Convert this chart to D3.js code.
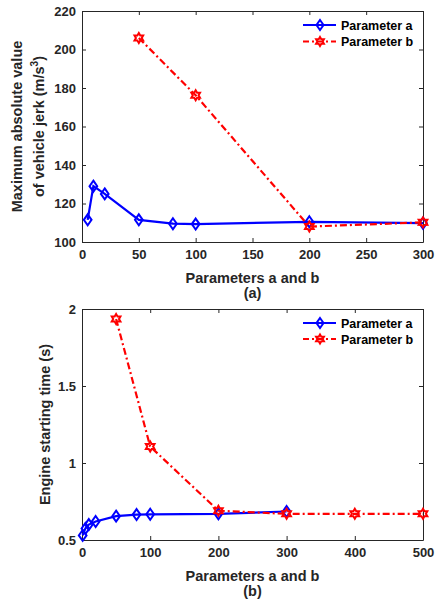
<!DOCTYPE html>
<html>
<head>
<meta charset="utf-8">
<script src="https://cdn.jsdelivr.net/npm/d3@7"></script>
<style>
  body { margin: 0; background: #fff; }
  svg { font-family: "Liberation Sans", Arial, sans-serif; font-weight: bold; }
</style>
</head>
<body>
<div id="chart"></div>
<script>
// panel (a): jerk
const jerkAX = [5, 10, 20, 50, 80, 100, 200, 300];
const jerkAY = [111.5, 129, 125, 111.5, 109.5, 109.3, 110.5, 109.8];
const jerkBX = [50, 100, 200, 300];
const jerkBY = [206, 176.2, 108, 110.2];
const jerkXTicks = [0, 50, 100, 150, 200, 250, 300];
const jerkYTicks = [100, 120, 140, 160, 180, 200, 220];

// panel (b): engine starting time
const startAX = [1, 5, 10, 20, 50, 80, 100, 200, 300];
const startAY = [0.53, 0.575, 0.6, 0.62, 0.655, 0.665, 0.667, 0.67, 0.685];
const startBX = [50, 100, 200, 300, 400, 500];
const startBY = [1.935, 1.107, 0.69, 0.67, 0.67, 0.67];
const startXTicks = [0, 100, 200, 300, 400, 500];
const startYTicks = [0.5, 1, 1.5, 2];

const seriesNames = ['Parameter a', 'Parameter b'];

const W = 439, H = 603;
const ink = '#262626';
const svg = d3.select('#chart').append('svg').attr('width', W).attr('height', H);

// six pointed star outline
function hexagram(r) {
    const inner = r * 0.58;
    const star = d3.range(12).map(i => {
        const a = i * Math.PI / 6 - Math.PI / 2;
        const rr = i % 2 === 0 ? r : inner;
        return [rr * Math.cos(a), rr * Math.sin(a)];
    });
    return 'M' + star.map(p => p.join(',')).join('L') + 'Z';
}
const diamond = (r) => `M0,${-r}L${r * 0.7},0L0,${r}L${-r * 0.7},0Z`;
const fmt = d3.format('~g');

function panel(cfg) {
    const g = svg.append('g');
    const x = d3.scaleLinear().domain(cfg.xDomain).range([cfg.left, cfg.right]);
    const y = d3.scaleLinear().domain(cfg.yDomain).range([cfg.bottom, cfg.top]);

    // axes, ticks inward, on all four sides
    g.append('g').attr('transform', `translate(0,${cfg.bottom})`)
        .call(d3.axisBottom(x).tickValues(cfg.xTicks).tickFormat(fmt).tickSizeInner(-4).tickSizeOuter(0).tickPadding(8));
    g.append('g').attr('transform', `translate(0,${cfg.top})`)
        .call(d3.axisTop(x).tickValues(cfg.xTicks).tickSizeInner(-4).tickSizeOuter(0).tickFormat(''));
    g.append('g').attr('transform', `translate(${cfg.left},0)`)
        .call(d3.axisLeft(y).tickValues(cfg.yTicks).tickFormat(fmt).tickSizeInner(-4).tickSizeOuter(0).tickPadding(6));
    g.append('g').attr('transform', `translate(${cfg.right},0)`)
        .call(d3.axisRight(y).tickValues(cfg.yTicks).tickSizeInner(-4).tickSizeOuter(0).tickFormat(''));
    g.selectAll('.domain, .tick line').attr('stroke', ink).attr('stroke-width', 1);
    g.selectAll('.tick text').attr('fill', ink).style('font-size', '13px').style('font-weight', 'bold')
        .style('font-family', '"Liberation Sans", Arial, sans-serif');

    const line = d3.line().x(d => x(d[0])).y(d => y(d[1]));
    const aPts = cfg.aX.map((v, i) => [v, cfg.aY[i]]);
    const bPts = cfg.bX.map((v, i) => [v, cfg.bY[i]]);

    g.append('path').datum(aPts).attr('d', line)
        .attr('fill', 'none').attr('stroke', '#0000ff').attr('stroke-width', 2.2);
    g.selectAll('.ma').data(aPts).enter().append('path')
        .attr('transform', d => `translate(${x(d[0])},${y(d[1])})`)
        .attr('d', diamond(5.5)).attr('fill', 'none').attr('stroke', '#0000ff').attr('stroke-width', 2);

    g.append('path').datum(bPts).attr('d', line)
        .attr('fill', 'none').attr('stroke', '#ff0000').attr('stroke-width', 2.2)
        .attr('stroke-dasharray', '7,3,2,3');
    g.selectAll('.mb').data(bPts).enter().append('path')
        .attr('transform', d => `translate(${x(d[0])},${y(d[1])})`)
        .attr('d', hexagram(5)).attr('fill', 'none').attr('stroke', '#ff0000').attr('stroke-width', 2);

    // legend
    const lg = g.append('g').attr('transform', `translate(303,${cfg.legendY})`);
    const rows = [
        { name: seriesNames[0], color: '#0000ff', dash: null, mark: diamond(5) },
        { name: seriesNames[1], color: '#ff0000', dash: '6,3,2,3', mark: hexagram(4.5) }
    ];
    rows.forEach((r, i) => {
        const ry = i * cfg.legendGap;
        lg.append('line').attr('x1', 0).attr('x2', 33).attr('y1', ry).attr('y2', ry)
            .attr('stroke', r.color).attr('stroke-width', 2).attr('stroke-dasharray', r.dash);
        lg.append('path').attr('transform', `translate(17,${ry})`).attr('d', r.mark)
            .attr('fill', 'none').attr('stroke', r.color).attr('stroke-width', 2);
        lg.append('text').attr('x', 38).attr('y', ry + 4.5).attr('fill', 'black')
            .style('font-size', '12.5px').text(r.name);
    });

    // axis labels
    const cx = (cfg.left + cfg.right) / 2;
    g.append('text').attr('x', cx).attr('y', cfg.xLabelY).attr('text-anchor', 'middle')
        .attr('fill', ink).style('font-size', '14.5px').text('Parameters a and b');
    g.append('text').attr('x', cx).attr('y', cfg.xLabelY + 15).attr('text-anchor', 'middle')
        .attr('fill', ink).style('font-size', '14.5px').text(cfg.caption);

    const cy = (cfg.top + cfg.bottom) / 2;
    cfg.yLabel(g, cy);
}

panel({
    left: 82, right: 423, top: 11, bottom: 242,
    xDomain: [0, 300], yDomain: [100, 220],
    xTicks: jerkXTicks, yTicks: jerkYTicks,
    aX: jerkAX, aY: jerkAY, bX: jerkBX, bY: jerkBY,
    legendY: 25, legendGap: 16.5,
    xLabelY: 283, caption: '(a)',
    yLabel: (g, cy) => {
        g.append('text').attr('transform', `translate(22,${cy}) rotate(-90)`).attr('text-anchor', 'middle')
            .attr('fill', ink).style('font-size', '14.5px').text('Maximum absolute value');
        const t = g.append('text').attr('transform', `translate(44,${cy}) rotate(-90)`).attr('text-anchor', 'middle')
            .attr('fill', ink).style('font-size', '14.5px');
        t.append('tspan').text('of vehicle jerk (m/s');
        t.append('tspan').attr('dy', -6).style('font-size', '10px').text('3');
        t.append('tspan').attr('dy', 6).text(')');
    }
});

panel({
    left: 82, right: 423, top: 309, bottom: 540,
    xDomain: [0, 500], yDomain: [0.5, 2],
    xTicks: startXTicks, yTicks: startYTicks,
    aX: startAX, aY: startAY, bX: startBX, bY: startBY,
    legendY: 323, legendGap: 16,
    xLabelY: 581, caption: '(b)',
    yLabel: (g, cy) => {
        g.append('text').attr('transform', `translate(50,${cy}) rotate(-90)`).attr('text-anchor', 'middle')
            .attr('fill', ink).style('font-size', '14.5px').text('Engine starting time (s)');
    }
});
</script>
</body>
</html>
